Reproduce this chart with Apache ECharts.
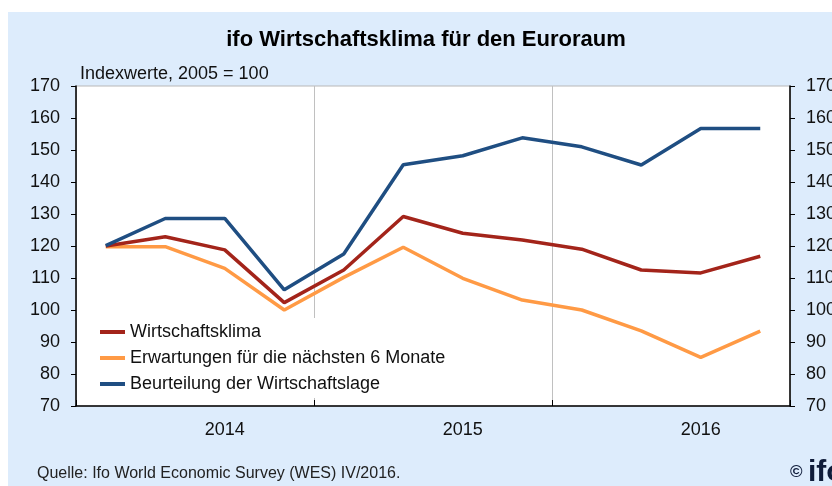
<!DOCTYPE html>
<html>
<head>
<meta charset="utf-8">
<title>ifo Wirtschaftsklima</title>
<script src="https://cdn.jsdelivr.net/npm/echarts@6/dist/echarts.min.js"></script>
<style>
  html, body { margin: 0; padding: 0; background: #fff; }
  #chart { width: 832px; height: 486px; }
</style>
</head>
<body>
<div id="chart"></div>
<script>
// Quartale 2014 Q1 .. 2016 Q4
var quarters = ['2014 Q1', '2014 Q2', '2014 Q3', '2014 Q4',
                '2015 Q1', '2015 Q2', '2015 Q3', '2015 Q4',
                '2016 Q1', '2016 Q2', '2016 Q3', '2016 Q4'];
var years = ['2014', '2015', '2016'];
var klima = [120, 122.9, 118.8, 102.3, 112.5, 129.2, 124.0, 121.9, 119.0, 112.5, 111.6, 116.8];
var erwartungen = [119.8, 119.8, 113.0, 100, 110.2, 119.6, 109.9, 103.1, 100, 93.5, 85.2, 93.4];
var lage = [120.1, 128.6, 128.6, 106.3, 117.5, 145.4, 148.2, 153.8, 151.0, 145.3, 156.7, 156.7];

var chart = echarts.init(document.getElementById('chart'));
var font = 'Arial, "Liberation Sans", sans-serif';

var option = {
  animation: false,
  textStyle: { fontFamily: font },
  graphic: [
    { type: 'rect', z: -10, shape: { x: 8, y: 12, width: 830, height: 480 }, style: { fill: '#ddecfc' } },
    { type: 'text', left: 80, top: 65, style: { text: 'Indexwerte, 2005 = 100', font: '18px ' + font, fill: '#111' } },
    { type: 'text', left: 37, top: 466, style: { text: 'Quelle: Ifo World Economic Survey (WES) IV/2016.', font: '16px ' + font, fill: '#222' } },
    { type: 'text', left: 790, top: 464, style: { text: '©', font: 'bold 17px ' + font, fill: '#0f1c3a' } },
    { type: 'text', left: 808, top: 458, style: { text: 'ifo', font: 'bold 30px ' + font, fill: '#0f1c3a' } }
  ],
  title: {
    text: 'ifo Wirtschaftsklima für den Euroraum',
    left: 421, top: 24, textAlign: 'center',
    textStyle: { fontSize: 22, fontWeight: 'bold', color: '#000', fontFamily: font }
  },
  legend: {
    left: 96, top: 318, orient: 'vertical',
    backgroundColor: '#fff', padding: [5, 8, 5, 4],
    itemWidth: 25, itemHeight: 4, itemGap: 8, itemTextGap: 7,
    icon: 'rect',
    textStyle: { fontSize: 18, lineHeight: 16, color: '#111', fontFamily: font },
    data: ['Wirtschaftsklima', 'Erwartungen für die nächsten 6 Monate', 'Beurteilung der Wirtschaftslage']
  },
  grid: {
    left: 76, right: 42, top: 86, bottom: 80,
    outerBoundsMode: 'none', containLabel: false,
    show: true, backgroundColor: '#fff', borderColor: '#b8b8b8', borderWidth: 1
  },
  xAxis: [
    {
      // Quartalsachse: Jahreszahl jeweils unter dem 3. Quartal
      type: 'category', data: quarters, boundaryGap: true, position: 'bottom',
      axisLine: { show: false }, axisTick: { show: false }, splitLine: { show: false },
      axisLabel: {
        fontSize: 18, color: '#111', margin: 15,
        interval: function (i) { return i % 4 === 2; },
        formatter: function (v) { return v.slice(0, 4); }
      }
    },
    {
      type: 'category', data: years, boundaryGap: true, position: 'bottom',
      axisLine: { lineStyle: { color: '#000', width: 1.5 } },
      axisTick: { show: true, inside: true, length: 6, lineStyle: { color: '#000' } },
      axisLabel: { show: false },
      splitLine: { show: true, lineStyle: { color: '#c0c0c0', width: 1 } }
    }
  ],
  yAxis: [
    {
      type: 'value', min: 70, max: 170, interval: 10, position: 'left',
      axisLine: { show: true, lineStyle: { color: '#000', width: 1.5 } },
      axisTick: { show: true, length: 5, lineStyle: { color: '#000' } },
      axisLabel: { fontSize: 18, color: '#111', margin: 16 },
      splitLine: { show: false }
    },
    {
      type: 'value', min: 70, max: 170, interval: 10, position: 'right',
      axisLine: { show: true, lineStyle: { color: '#000', width: 1.5 } },
      axisTick: { show: true, length: 5, lineStyle: { color: '#000' } },
      axisLabel: { fontSize: 18, color: '#111', margin: 16 },
      splitLine: { show: false }
    }
  ],
  series: [
    { name: 'Wirtschaftsklima', type: 'line', data: klima, xAxisIndex: 0, yAxisIndex: 0, showSymbol: false, color: '#a3241a', lineStyle: { width: 3.5, color: '#a3241a' }, z: 3 },
    { name: 'Erwartungen für die nächsten 6 Monate', type: 'line', data: erwartungen, xAxisIndex: 0, yAxisIndex: 0, showSymbol: false, color: '#ff9a45', lineStyle: { width: 3.5, color: '#ff9a45' }, z: 2 },
    { name: 'Beurteilung der Wirtschaftslage', type: 'line', data: lage, xAxisIndex: 0, yAxisIndex: 0, showSymbol: false, color: '#1f4e82', lineStyle: { width: 3.5, color: '#1f4e82' }, z: 4 }
  ]
};
chart.setOption(option);
</script>
</body>
</html>
